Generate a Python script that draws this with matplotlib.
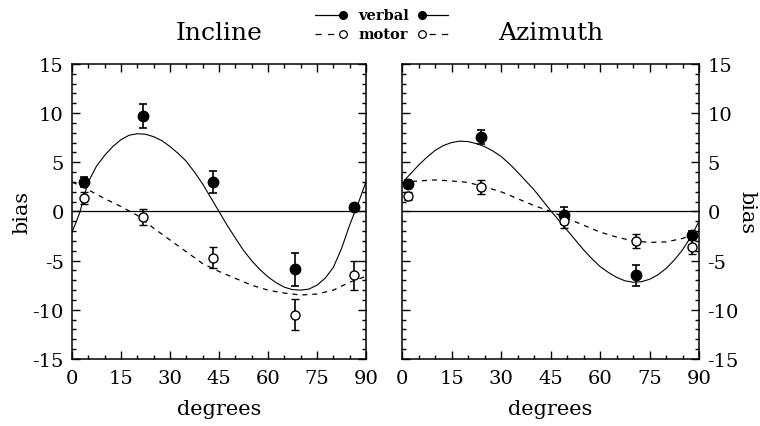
import matplotlib
matplotlib.use("Agg")
import matplotlib.pyplot as plt
from matplotlib.ticker import MultipleLocator

plt.rcParams["font.family"] = ["DejaVu Serif"]
plt.rcParams["axes.unicode_minus"] = False

# measured points (degrees, bias, error)
inc_x = [3.7, 21.8, 43.1, 68.3, 86.3]
inc_verbal = [3.0, 9.7, 3.0, -5.9, 0.4]
inc_verbal_err = [0.5, 1.2, 1.1, 1.7, 0.4]
inc_motor = [1.4, -0.55, -4.7, -10.5, -6.5]
inc_motor_err = [0.6, 0.8, 1.1, 1.6, 1.5]

azi_x = [1.8, 23.9, 49.1, 71.0, 87.8]
azi_verbal = [2.75, 7.6, -0.4, -6.5, -2.4]
azi_verbal_err = [0.4, 0.7, 0.9, 1.1, 0.4]
azi_motor = [1.6, 2.5, -0.95, -3.0, -3.6]
azi_motor_err = [0.4, 0.7, 0.7, 0.7, 0.7]

# fitted curves
fit_x = [0, 1.25, 2.5, 3.75, 5, 7.5, 10, 12.5, 15, 17.5, 20, 22.5, 25, 27.5, 30, 32.5, 35,
         37.5, 40, 42.5, 45, 47.5, 50, 52.5, 55, 57.5, 60, 62.5, 65, 67.5, 70, 72.5, 75,
         77.5, 80, 82.5, 85, 87.5, 90]
inc_verbal_fit = [-2.1, -1.1, 0, 1.6, 3.0, 4.6, 5.7, 6.6, 7.3, 7.75, 7.9, 7.85, 7.6, 7.2,
                  6.6, 5.9, 5.1, 4.0, 2.8, 1.4, 0, -1.4, -2.7, -3.95, -5.0, -5.9, -6.65,
                  -7.25, -7.7, -7.95, -8.0, -7.9, -7.5, -6.8, -5.7, -3.8, -1.4, 0.7, 3.0]
azi_verbal_fit = [2.85, 3.35, 3.8, 4.25, 4.7, 5.5, 6.2, 6.7, 7.0, 7.15, 7.1, 6.9, 6.6, 6.15,
                  5.6, 4.85, 4.0, 3.1, 2.2, 1.15, 0.1, -0.9, -1.9, -2.9, -3.9, -4.8, -5.6,
                  -6.2, -6.7, -7.05, -7.2, -7.15, -6.9, -6.45, -5.8, -4.95, -3.9, -2.6, -1.0]

motor_fit_x = [0, 5, 10, 15, 20, 25, 30, 35, 40, 45, 50, 55, 60, 65, 70, 75, 80, 85, 90]
inc_motor_fit = [3.0, 2.2, 1.3, 0.5, -0.4, -1.7, -2.9, -4.1, -5.3, -6.1, -6.8, -7.5, -8.0,
                 -8.3, -8.5, -8.4, -8.0, -7.2, -6.6]
azi_motor_fit = [2.95, 3.1, 3.2, 3.1, 2.95, 2.5, 2.0, 1.3, 0.6, 0.0, -0.7, -1.4, -2.1,
                 -2.6, -3.0, -3.15, -3.1, -2.75, -2.1]

panels = [
    ("Incline", inc_x, inc_verbal, inc_verbal_err, inc_motor, inc_motor_err,
     inc_verbal_fit, inc_motor_fit),
    ("Azimuth", azi_x, azi_verbal, azi_verbal_err, azi_motor, azi_motor_err,
     azi_verbal_fit, azi_motor_fit),
]

fig = plt.figure(figsize=(7.6, 4.27), dpi=100)
boxes = [[0.0947, 0.157, 0.3868, 0.691], [0.529, 0.157, 0.3908, 0.691]]

for i, (title, x, v, ve, m, me, fv, fm) in enumerate(panels):
    ax = fig.add_axes(boxes[i])
    ax.axhline(0, color="black", lw=0.9)
    ax.plot(fit_x, fv, color="black", lw=0.8)
    ax.plot(motor_fit_x, fm, color="black", lw=0.9, ls=(0, (4, 4)))
    ax.errorbar(x, v, yerr=ve, fmt="o", color="black", ms=7.5, capsize=3,
                elinewidth=1.2, capthick=1.2, zorder=4)
    ax.errorbar(x, m, yerr=me, fmt="o", color="black", mfc="white", mec="black",
                mew=1.0, ms=6.5, capsize=3, elinewidth=1.2, capthick=1.2, zorder=4)
    ax.set_xlim(0, 90)
    ax.set_ylim(-15, 15)
    ax.xaxis.set_major_locator(MultipleLocator(15))
    ax.xaxis.set_minor_locator(MultipleLocator(5))
    ax.yaxis.set_major_locator(MultipleLocator(5))
    ax.yaxis.set_minor_locator(MultipleLocator(1))
    ax.tick_params(which="both", direction="in", top=True, right=True, width=1)
    ax.tick_params(which="major", length=6, labelsize=14)
    ax.tick_params(which="minor", length=3)
    ax.tick_params(axis="x", which="major", pad=7)
    ax.tick_params(axis="y", which="major", pad=6)
    for s in ax.spines.values():
        s.set_linewidth(1.1)
    ax.set_xlabel("degrees", fontsize=15, labelpad=9)
    ax.set_title(title, fontsize=18, pad=18)
    if i == 0:
        ax.set_ylabel("bias", fontsize=15, va="center")
        ax.yaxis.set_label_coords(-0.17, 0.5)
    else:
        ax.tick_params(which="both", labelleft=False, labelright=True)
        ax.yaxis.set_label_position("right")
        ax.set_ylabel("bias", fontsize=15, rotation=270, va="center")
        ax.yaxis.set_label_coords(1.16, 0.5)

# legend made by hand: line, marker, label, marker, line
leg = fig.add_axes([0.4145, 0.89, 0.1765, 0.1])
leg.set_xlim(0, 1)
leg.set_ylim(0, 1)
leg.axis("off")
leg.plot([0.0, 0.17], [0.73, 0.73], color="black", lw=0.9)
leg.plot([0.21, 0.80], [0.73, 0.73], "o", color="black", ms=5.5)
leg.plot([0.836, 1.0], [0.73, 0.73], color="black", lw=0.9)
leg.text(0.51, 0.73, "verbal", ha="center", va="center", fontsize=10.5, fontweight="bold")
leg.plot([0.0, 0.15], [0.28, 0.28], color="black", lw=0.9, ls=(0, (5, 5)))
leg.plot([0.21, 0.80], [0.28, 0.28], "o", mfc="white", mec="black", ms=5.5, mew=0.9)
leg.plot([0.85, 1.0], [0.28, 0.28], color="black", lw=0.9, ls=(0, (5, 5)))
leg.text(0.51, 0.28, "motor", ha="center", va="center", fontsize=10.5, fontweight="bold")

fig.savefig("out.png", dpi=100)
